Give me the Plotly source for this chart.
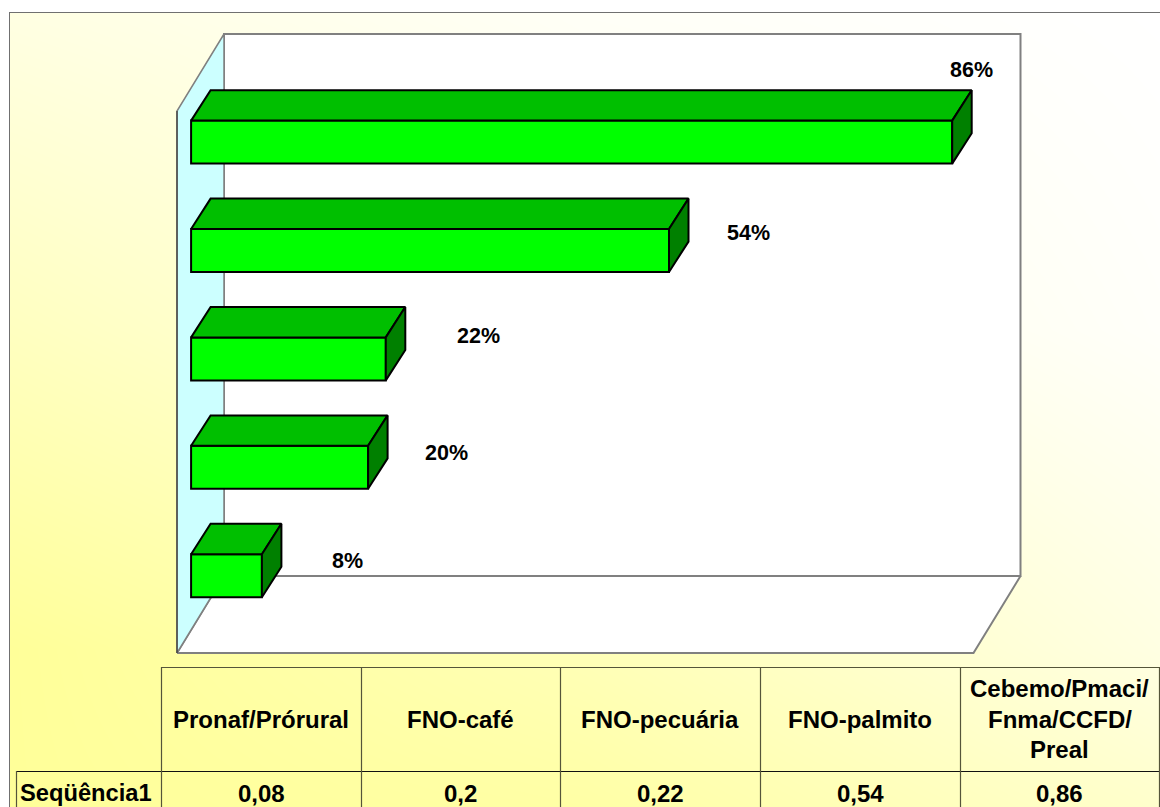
import plotly.graph_objects as go

# ---- data ----
categories = ["Pronaf/Prórural", "FNO-café", "FNO-pecuária", "FNO-palmito", "Cebemo/Pmaci/\nFnma/CCFD/\nPreal"]
values = [0.08, 0.2, 0.22, 0.54, 0.86]
series_name = "Seqüência1"
value_axis_max = 0.9
label_px = [(347, 561), (446, 453), (478, 336), (748, 233), (971, 70)]  # hand-placed data labels

# ---- layout / style ----
W, H = 1160, 807
FONT = "Liberation Sans"
PX_PER_VALUE = 885.0
PX_PER_BAND = 108.4
WALL_X0, WALL_X1, WALL_Y0, WALL_Y1 = 177, 1022, 653, 35
PAD = 10  # breathing room (px) so wall outlines are not at the subplot edge
DEPTH_X = 47 / PX_PER_VALUE
DEPTH_Y = 77 / PX_PER_BAND
BAR_D0 = 0.30
BAR_DX = 19.5 / PX_PER_VALUE
BAR_DY = 30.4 / PX_PER_BAND
BAR_H = 43 / PX_PER_BAND
TABLE_X = [161, 361, 560, 760, 960, 1159]
TABLE_LEFT, TABLE_TOP, TABLE_MID = 16, 667, 771
bg_x = [0, 0.5, 1]
bg_y = [0, 0.2, 0.6, 1]
bg_mix = [[0.0, 0.12, 0.50], [0.0, 0.30, 0.72], [0.38, 0.72, 0.95], [0.72, 0.92, 1.0]]


def px(x):
    return x / W


def py(y):
    return 1 - y / H


x_range = [-PAD / PX_PER_VALUE, (WALL_X1 - WALL_X0 + PAD) / PX_PER_VALUE]
y_range = [-PAD / PX_PER_BAND, (WALL_Y0 - WALL_Y1 + PAD) / PX_PER_BAND]
n = len(values)

fig = go.Figure()

# gradient background
fig.add_trace(go.Heatmap(z=bg_mix, x=bg_x, y=bg_y, zsmooth="best", zmin=0, zmax=1,
                         colorscale=[[0, "#FFFF99"], [1, "#FFFFFF"]], showscale=False,
                         hoverinfo="skip", xaxis="x", yaxis="y"))


def poly(xs, ys, fill, line, lw, axes=("x2", "y2")):
    fig.add_trace(go.Scatter(x=xs + xs[:1], y=ys + ys[:1], mode="lines", fill="toself", fillcolor=fill,
                             line=dict(color=line, width=lw), hoverinfo="skip", showlegend=False,
                             cliponaxis=False, xaxis=axes[0], yaxis=axes[1]))


# walls
vm = value_axis_max
GREY = "#808080"
poly([DEPTH_X, DEPTH_X + vm, DEPTH_X + vm, DEPTH_X], [DEPTH_Y, DEPTH_Y, DEPTH_Y + n, DEPTH_Y + n], "#FFFFFF", GREY, 2)
poly([0, vm, vm + DEPTH_X, DEPTH_X], [0, 0, DEPTH_Y, DEPTH_Y], "#FFFFFF", GREY, 2)
poly([0, DEPTH_X, DEPTH_X, 0], [0, DEPTH_Y, DEPTH_Y + n, n], "#CCFFFF", GREY, 1.5)
fig.add_trace(go.Scatter(x=[0, 0], y=[0, n], mode="lines", line=dict(color="#222222", width=1),
                         hoverinfo="skip", showlegend=False, cliponaxis=False, xaxis="x2", yaxis="y2"))

# bar front faces
centers = [i + 0.5 + BAR_D0 * DEPTH_Y for i in range(n)]
fig.add_trace(go.Bar(x=values, y=centers, base=BAR_D0 * DEPTH_X, width=BAR_H, orientation="h",
                     marker=dict(color="#00FF00", line=dict(color="#000000", width=2)),
                     hoverinfo="skip", showlegend=False, xaxis="x3", yaxis="y3"))

# bar top and side faces
ax3 = ("x3", "y3")
for i, v in enumerate(values):
    x0 = BAR_D0 * DEPTH_X
    x1 = x0 + v
    yb = centers[i] - BAR_H / 2
    yt = centers[i] + BAR_H / 2
    poly([x0, x1, x1 + BAR_DX, x0 + BAR_DX], [yt, yt, yt + BAR_DY, yt + BAR_DY], "#00BF00", "#000000", 2, ax3)
    poly([x1, x1 + BAR_DX, x1 + BAR_DX, x1], [yb, yb + BAR_DY, yt + BAR_DY, yt], "#008000", "#000000", 2, ax3)

annotations = []


def text(x, y, s, size):
    annotations.append(dict(x=px(x), y=py(y), xref="paper", yref="paper", text=s, showarrow=False,
                            xanchor="center", yanchor="middle",
                            font=dict(family=FONT, size=size, color="#000000"),
                            borderpad=0))


for v, (lx, ly) in zip(values, label_px):
    text(lx, ly, f"<b>{round(v * 100)}%</b>", 21.5)

# data table
text(85.5, 793, f"<b>{series_name}</b>", 23.7)
for i, cat in enumerate(categories):
    cx = (TABLE_X[i] + TABLE_X[i + 1]) / 2
    lines = cat.split("\n")
    ymid = (TABLE_TOP + TABLE_MID) / 2
    for j, ln in enumerate(lines):
        text(cx, ymid + (j - (len(lines) - 1) / 2) * 30.5, f"<b>{ln}</b>", 24)
    text(cx, 793, "<b>" + str(values[i]).replace(".", ",") + "</b>", 24)


def hline(x0, x1, y, color, w=1.0):
    return dict(type="line", xref="paper", yref="paper", x0=px(x0), x1=px(x1), y0=py(y), y1=py(y),
                line=dict(color=color, width=w), layer="above")


def vline(x, y0, y1, color, w=1.0):
    return dict(type="line", xref="paper", yref="paper", x0=px(x), x1=px(x), y0=py(y0), y1=py(y1),
                line=dict(color=color, width=w), layer="above")


OLIVE = "#55553A"
shapes = [hline(9, W, 12.5, "#707070", 1), vline(9.5, 12, H, "#707070", 1)]
shapes.append(hline(TABLE_X[0], TABLE_X[-1], TABLE_TOP + 0.5, OLIVE, 1.2))
shapes.append(hline(TABLE_LEFT, TABLE_X[-1], TABLE_MID + 0.5, "#111111", 1))
for xp in TABLE_X:
    shapes.append(vline(xp + 0.5, TABLE_TOP, H, OLIVE, 1.2))
shapes.append(vline(TABLE_LEFT + 0.5, TABLE_MID, H, OLIVE, 1.2))

hidden = dict(visible=False, fixedrange=True)
fig.update_layout(
    width=W, height=H, margin=dict(l=0, r=0, t=0, b=0, pad=0), autosize=False,
    paper_bgcolor="#FFFFFF", plot_bgcolor="rgba(0,0,0,0)", showlegend=False, barmode="overlay",
    xaxis=dict(domain=[px(9), 1], range=[0, 1], anchor="y", **hidden),
    yaxis=dict(domain=[0, py(12)], range=[0, 1], anchor="x", **hidden),
    xaxis2=dict(domain=[px(WALL_X0 - PAD), px(WALL_X1 + PAD)], range=x_range, anchor="y2", **hidden),
    yaxis2=dict(domain=[py(WALL_Y0 + PAD), py(WALL_Y1 - PAD)], range=y_range, anchor="x2", **hidden),
    xaxis3=dict(overlaying="x2", range=x_range, anchor="y3", **hidden),
    yaxis3=dict(overlaying="y2", range=y_range, anchor="x3", **hidden),
    annotations=annotations, shapes=shapes,
)

fig.write_html("out.html", config={"displayModeBar": False},
               post_script="document.body.style.margin='0';document.body.style.overflow='hidden';")
